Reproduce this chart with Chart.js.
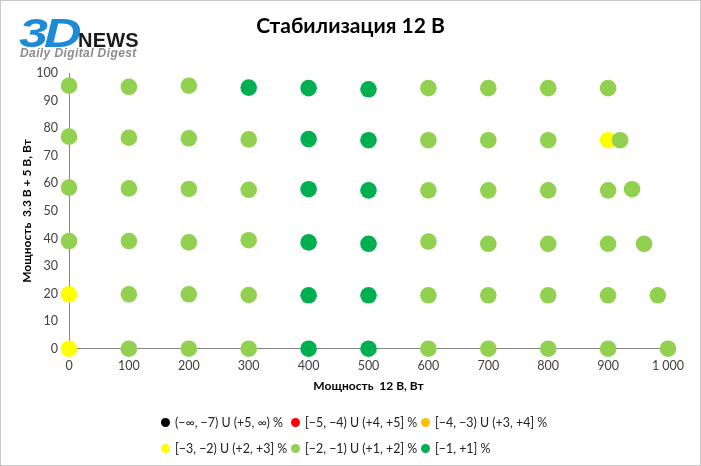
<!DOCTYPE html>
<html>
<head>
<meta charset="utf-8">
<script src="https://cdn.jsdelivr.net/npm/chart.js@4.4.1/dist/chart.umd.min.js"></script>
<style>
  html, body { margin: 0; padding: 0; background: #fff; }
  #wrap { position: relative; width: 701px; height: 466px; overflow: hidden; font-family: Lato, "Open Sans", sans-serif; }
  #frame { position: absolute; left: 0; top: 0; width: 701px; height: 466px; box-sizing: border-box; border: 1px solid #c8c8c8; pointer-events: none; }
  canvas { position: absolute; left: 0; top: 0; }
  #title { position: absolute; left: 0; width: 701px; top: 12px; text-align: center; font-weight: bold; font-size: 21px; line-height: 1.2; color: #000; }
  .logo3d { position: absolute; left: 19px; top: 13px; font-family: "Liberation Sans", Arial, sans-serif; font-weight: bold; font-style: italic; font-size: 40px; color: #1d8ad6; letter-spacing: -3px; transform: scaleX(1.3); transform-origin: left top; line-height: 1; }
  .logonews { position: absolute; left: 78px; top: 30px; font-family: "Liberation Sans", Arial, sans-serif; font-weight: bold; font-size: 20px; color: #1a1a1a; line-height: 1; letter-spacing: 0.2px; }
  .logodd { position: absolute; left: 20px; top: 47px; font-family: "Liberation Sans", Arial, sans-serif; font-weight: bold; font-style: italic; font-size: 12px; color: #8c8c8c; line-height: 1; letter-spacing: 0.4px; }
  #legend { position: absolute; left: 161px; top: 414px; display: grid; grid-template-columns: 130px 130px 130px; row-gap: 10px; font-size: 12.4px; color: #222; }
  .li { display: flex; align-items: center; white-space: nowrap; height: 16px; }
  .dot { width: 9px; height: 9px; border-radius: 50%; margin-right: 5px; flex: none; }
</style>
</head>
<body>
<div id="wrap">
  <canvas id="c" width="701" height="466"></canvas>
  <div class="logo3d">3D</div>
  <div class="logonews">NEWS</div>
  <div class="logodd">Daily Digital Digest</div>
  <div id="title">Стабилизация 12 В</div>
  <div id="legend"></div>
  <div id="frame"></div>
</div>
<script>
// ---- Data ----
const seriesNames = [
  '(−∞, −7) U (+5, ∞) %',
  '[−5, −4) U (+4, +5] %',
  '[−4, −3) U (+3, +4] %',
  '[−3, −2) U (+2, +3] %',
  '[−2, −1) U (+1, +2] %',
  '[−1, +1] %'
];
const seriesColors = ['#000000', '#FF0000', '#FFC000', '#FFFF00', '#92D050', '#00B050'];

const blackX = [];
const blackY = [];
const redX = [];
const redY = [];
const orangeX = [];
const orangeY = [];
const yellowX = [0, 0, 900];
const yellowY = [0, 19.75, 75.7];
const lightGreenX = [
  0, 100, 200, 600, 700, 800, 900,
  0, 100, 200, 300, 600, 700, 800, 920,
  0, 100, 200, 300, 600, 700, 800, 900, 940,
  0, 100, 200, 300, 600, 700, 800, 900, 960,
  100, 200, 300, 600, 700, 800, 900, 983,
  100, 200, 300, 600, 700, 800, 900, 1000
];
const lightGreenY = [
  95.5, 95.1, 95.5, 94.6, 94.6, 94.6, 94.6,
  77.0, 76.6, 76.4, 76.0, 75.7, 75.7, 75.7, 75.7,
  58.5, 58.2, 58.0, 57.7, 57.5, 57.5, 57.5, 57.5, 57.9,
  39.1, 39.1, 38.6, 39.4, 38.9, 38.1, 38.1, 38.1, 38.1,
  19.75, 19.75, 19.5, 19.4, 19.4, 19.4, 19.4, 19.4,
  0, 0, 0, 0, 0, 0, 0, 0
];
const darkGreenX = [300, 400, 500, 400, 500, 400, 500, 400, 500, 400, 500, 400, 500];
const darkGreenY = [94.8, 94.6, 94.2, 76.1, 75.7, 57.9, 57.5, 38.6, 38.1, 19.4, 19.4, 0, 0];

const xTickLabels = ['0', '100', '200', '300', '400', '500', '600', '700', '800', '900', '1 000'];
const yTickLabels = ['0', '10', '20', '30', '40', '50', '60', '70', '80', '90', '100'];

const xTitle = 'Мощность  12 В, Вт';
const yTitle = 'Мощность  3.3 В + 5 В, Вт';

// ---- Build ----
const seriesX = [blackX, redX, orangeX, yellowX, lightGreenX, darkGreenX];
const seriesY = [blackY, redY, orangeY, yellowY, lightGreenY, darkGreenY];
// greens are drawn on top of yellow
const drawOrder = [6, 5, 4, 3, 2, 1];

const datasets = seriesNames.map((name, s) => ({
  label: name,
  data: seriesX[s].map((x, i) => ({ x: x, y: seriesY[s][i] })),
  backgroundColor: seriesColors[s],
  borderWidth: 0,
  pointRadius: 8.3,
  pointHoverRadius: 8.3,
  clip: false,
  order: drawOrder[s]
}));

const legendEl = document.getElementById('legend');
seriesNames.forEach((name, s) => {
  const d = document.createElement('div');
  d.className = 'li';
  d.innerHTML = '<span class="dot" style="background:' + seriesColors[s] + '"></span><span>' + name + '</span>';
  legendEl.appendChild(d);
});

const tickFont = { family: 'Lato, "Open Sans", sans-serif', size: 12.5 };
const titleFont = { family: 'Lato, "Open Sans", sans-serif', size: 12, weight: 'bold' };

new Chart(document.getElementById('c'), {
  type: 'scatter',
  data: { datasets: datasets },
  options: {
    responsive: false,
    devicePixelRatio: 1,
    animation: false,
    events: [],
    layout: { padding: { top: 73.3, right: 33, bottom: 66, left: 0 } },
    plugins: { legend: { display: false }, title: { display: false }, tooltip: { enabled: false } },
    scales: {
      x: {
        type: 'linear',
        min: 0, max: 1000,
        grid: { display: false, drawTicks: false },
        border: { display: true, color: '#868686', width: 1 },
        ticks: {
          stepSize: 100, padding: 10, color: '#404040', font: tickFont,
          maxRotation: 0, autoSkip: false,
          callback: (v, i) => xTickLabels[i]
        },
        title: { display: true, text: xTitle, color: '#000', font: titleFont, padding: { top: 0, bottom: 7 } },
        afterFit: (s) => { s.height = 51.3; }
      },
      y: {
        type: 'linear',
        min: 0, max: 100,
        grid: { display: false, drawTicks: false },
        border: { display: true, color: '#868686', width: 1 },
        ticks: {
          stepSize: 10, padding: 11, color: '#404040', font: tickFont,
          autoSkip: false,
          callback: (v, i) => yTickLabels[i]
        },
        title: { display: true, text: yTitle, color: '#000', font: titleFont, padding: { top: 20, bottom: 0 } },
        afterFit: (s) => { s.width = 69; }
      }
    }
  }
});
</script>
</body>
</html>
